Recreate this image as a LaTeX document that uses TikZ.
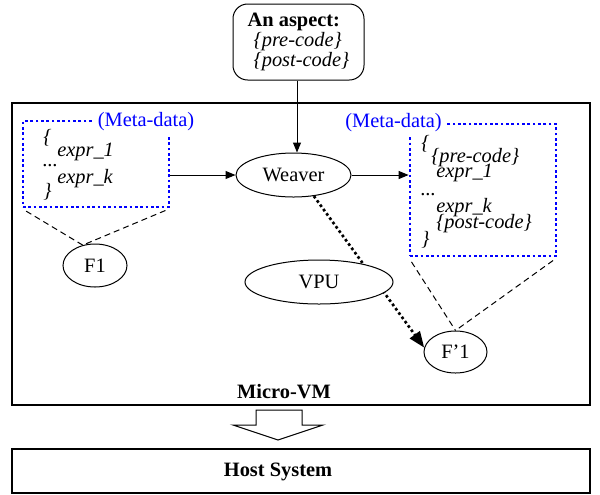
\documentclass[tikz,border=0pt]{standalone}
\usepackage{fontspec}
\setmainfont{Liberation Serif}
\usetikzlibrary{arrows.meta,shapes.geometric}
\definecolor{metablue}{RGB}{0,0,255}
\tikzset{
  every node/.style={inner sep=0pt},
  line/.style={line width=0.75pt},
  oval/.style={ellipse, draw, line width=0.75pt, fill=white},
  metabox/.style={draw=metablue, line width=2.1pt, dash pattern=on 2.1pt off 1.9pt},
  metalabel/.style={text=metablue, fill=white, inner xsep=3pt, inner ysep=3pt},
  code/.style={anchor=west, font=\fontsize{15.3}{15.3}\selectfont\itshape},
  frame/.style={draw, line width=0.8pt},
  arr/.style={line width=0.75pt, -{Triangle[length=7.5pt,width=6pt]}},
  dotarr/.style={line width=2pt, dash pattern=on 2pt off 2pt, -{Triangle[length=12pt,width=9pt]}},
  dashln/.style={line width=0.75pt, dash pattern=on 4.5pt off 3pt},
}
\begin{document}
\begin{tikzpicture}[x=0.75pt,y=-0.75pt, font=\fontsize{15.3}{15.3}\selectfont]
\useasboundingbox (0,0) rectangle (600,494);

% frames
\node[frame, minimum width=433.5pt, minimum height=226.5pt] (vm) at (301,254) {};
\node[font=\fontsize{15.3}{15.3}\selectfont\bfseries] (vmlabel) at (284,392) {Micro-VM};
\node[frame, minimum width=433.5pt, minimum height=33pt] (host) at (301,471) {};
\node[font=\fontsize{15.3}{15.3}\selectfont\bfseries] (hostlabel) at (278,472) {Host System};

% block arrow
\draw[line width=0.75pt] (256,410) -- (256,425) -- (233,425) -- (278,440) -- (323,425) -- (302,425) -- (302,410) -- cycle;

% aspect
\node[draw, line width=0.75pt, rounded corners=11pt, minimum width=98.25pt, minimum height=57pt, align=left] (aspect) at (298.5,42)
  {\textbf{An aspect:}\\\hspace*{4.5pt}\textit{\{pre-code\}}\\\hspace*{4.5pt}\textit{\{post-code\}}};

% ovals
\node[oval, minimum width=86.25pt, minimum height=33pt] (weaver) at (293.5,175) {Weaver};
\node[oval, minimum width=48pt, minimum height=32.25pt] (f1) at (95,265.5) {F1};
\node[oval, minimum width=47.25pt, minimum height=31.5pt] (f1p) at (455.5,352) {F’1};

% meta boxes
\node[metabox, minimum width=109.5pt, minimum height=64.5pt] (lm) at (96,164) {};
\node[metabox, minimum width=109.5pt, minimum height=99pt] (rm) at (483,190) {};
\node[metalabel] (lml) at (146,122) {(Meta-data)};
\node[metalabel] (rml) at (393.5,123) {(Meta-data)};

% left meta text
\node[code] (l1) at (43,138) {\{};
\node[code] (l2) at (57,152) {expr\_1};
\node[code, font=\fontsize{15.3}{15.3}\selectfont] (l3) at (42,166) {...};
\node[code] (l4) at (57,179) {expr\_k};
\node[code] (l5) at (43,192) {\}};

% right meta text
\node[code] (r1) at (421,144) {\{};
\node[code] (r2) at (431,158) {\{pre-code\}};
\node[code] (r3) at (436,173) {expr\_1};
\node[code, font=\fontsize{15.3}{15.3}\selectfont] (r4) at (420,195) {...};
\node[code] (r5) at (436,208) {expr\_k};
\node[code] (r6) at (436,224) {\{post-code\}};
\node[code] (r7) at (421,240) {\}};

% connectors
\coordinate (ax) at (297,0);
\draw[arr] (aspect.south -| ax) -- (weaver.north -| ax);
\draw[arr] (lm.east |- weaver.west) -- (weaver.west);
\draw[arr] (weaver.east) -- (rm.west |- weaver.east);
\draw[dashln, shorten <=4pt] (lm.south west) -- (f1.121);
\draw[dashln, shorten <=4pt] (lm.south east) -- (f1.121);
\draw[dashln, shorten <=4pt] (rm.south west) -- (f1p.north);
\draw[dashln, shorten <=4pt] (rm.south east) -- (f1p.north);
\draw[dotarr] (weaver.-46) -- (f1p.172);

% VPU drawn over the dotted connector
\node[oval, minimum width=111pt, minimum height=33pt] (vpu) at (319,282) {VPU};
\end{tikzpicture}
\end{document}
